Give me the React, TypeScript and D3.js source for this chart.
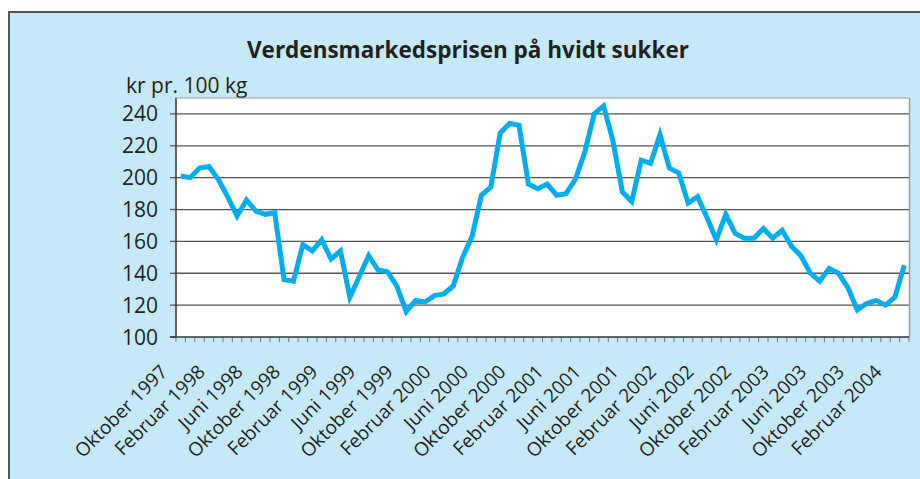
import React from "react";
import * as d3 from "d3";

const title = "Verdensmarkedsprisen på hvidt sukker";
const unitLabel = "kr pr. 100 kg";

// one label for every fourth month, first month is Oktober 1997
const tickLabels = [
  "Oktober 1997", "Februar 1998", "Juni 1998", "Oktober 1998", "Februar 1999",
  "Juni 1999", "Oktober 1999", "Februar 2000", "Juni 2000", "Oktober 2000",
  "Februar 2001", "Juni 2001", "Oktober 2001", "Februar 2002", "Juni 2002",
  "Oktober 2002", "Februar 2003", "Juni 2003", "Oktober 2003", "Februar 2004",
];
const labelEvery = 4;

// monthly price, kr pr. 100 kg (Okt 1997 - Mar 2004)
const prices = [
  201, 200, 206, 207, 199, 188, 176, 186, 179, 177, 178, 136,
  135, 158, 154, 161, 149, 154, 125, 138, 151, 142, 141, 132,
  116, 123, 122, 126, 127, 132, 150, 163, 189, 194, 228, 234,
  233, 196, 193, 196, 189, 190, 199, 216, 240, 245, 223, 191,
  185, 211, 209, 227, 206, 203, 184, 188, 175, 161, 177, 165,
  162, 162, 168, 162, 167, 157, 151, 140, 135, 143, 140, 131,
  117, 121, 123, 120, 125, 145,
];

const yTicks = [100, 120, 140, 160, 180, 200, 220, 240];

const W = 920;
const H = 479;
const plot = { left: 176, right: 909, top: 98, bottom: 337 };
const font = "'Open Sans', sans-serif";

export default function App() {
  const x = d3
    .scaleBand<number>()
    .domain(d3.range(prices.length))
    .range([plot.left, plot.right])
    .padding(0);

  const y = d3.scaleLinear().domain([100, 250]).range([plot.bottom, plot.top]);

  const cx = (i: number) => (x(i) as number) + x.bandwidth() / 2;

  const line = d3
    .line<number>()
    .x((_, i) => cx(i))
    .y((d) => y(d));

  const boundaries = d3.range(prices.length + 1).map((i) => plot.left + i * x.bandwidth());

  return (
    <svg
      width={W}
      height={H}
      style={{ position: "absolute", left: 0, top: 0, display: "block" }}
      fontFamily={font}
    >
      <rect x={0} y={0} width={W} height={H} fill="#ffffff" />
      <rect x={9} y={12} width={W + 20} height={H + 20} fill="#c6e9f9" stroke="#555" strokeWidth={2} />

      <text x={468} y={58} textAnchor="middle" fontSize={22.5} fontWeight={700} fill="#231f20">
        {title}
      </text>
      <text x={126} y={93} fontSize={21} fill="#231f20">
        {unitLabel}
      </text>

      <rect x={plot.left} y={plot.top} width={plot.right - plot.left} height={plot.bottom - plot.top} fill="#fff" />
      <line x1={plot.left} x2={plot.right} y1={plot.top} y2={plot.top} stroke="#999" strokeWidth={1} />
      <line x1={plot.right + 0.5} x2={plot.right + 0.5} y1={plot.top} y2={plot.bottom} stroke="#999" strokeWidth={1.5} />

      {yTicks.map((t) => (
        <g key={t}>
          {t > 100 && (
            <line x1={plot.left} x2={plot.right} y1={y(t)} y2={y(t)} stroke="#555" strokeWidth={1.3} />
          )}
          <line x1={plot.left - 6} x2={plot.left} y1={y(t)} y2={y(t)} stroke="#555" strokeWidth={1.3} />
          <text x={158} y={y(t)} dy="0.36em" textAnchor="end" fontSize={21} fill="#231f20">
            {t}
          </text>
        </g>
      ))}

      {boundaries.map((bx, i) => (
        <line key={i} x1={bx} x2={bx} y1={plot.bottom} y2={plot.bottom + 5} stroke="#777" strokeWidth={1} />
      ))}

      <line x1={plot.left} x2={plot.left} y1={plot.top} y2={plot.bottom} stroke="#333" strokeWidth={1.5} />
      <line x1={plot.left - 6} x2={plot.right} y1={plot.bottom} y2={plot.bottom} stroke="#333" strokeWidth={1.5} />

      <path d={line(prices) ?? ""} fill="none" stroke="#00aeef" strokeWidth={5} strokeLinejoin="miter" />

      {tickLabels.map((lab, k) => {
        const i = k * labelEvery;
        return (
          <text
            key={lab}
            transform={`translate(${cx(i) - 12},${plot.bottom + 36}) rotate(-45)`}
            textAnchor="end"
            fontSize={19}
            fill="#231f20"
          >
            {lab}
          </text>
        );
      })}
    </svg>
  );
}
